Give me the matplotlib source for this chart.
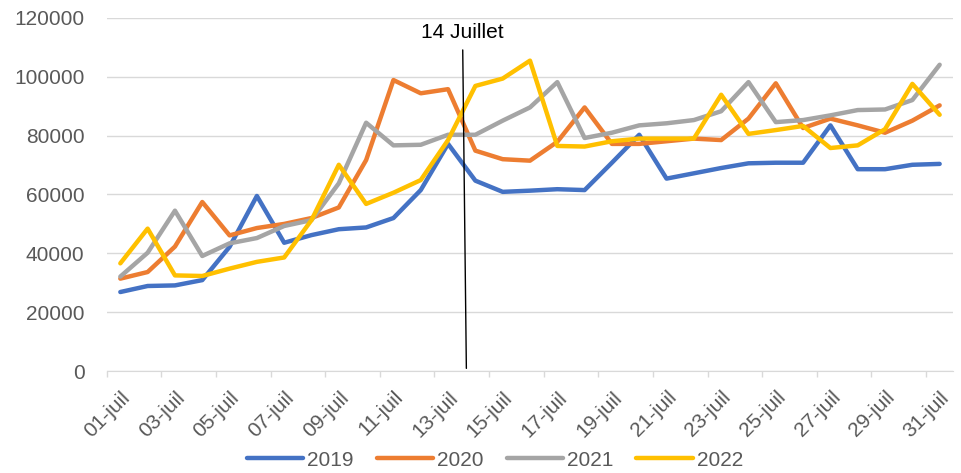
'''

arrivees de juillet, 2019-2022

'''
import numpy as np
import matplotlib
matplotlib.use('Agg')
import matplotlib.pyplot as plt

days = ['%02d-juil' % d for d in range(1, 32)]

v2019 = [26850, 28900, 29100, 30900, 42200, 59500, 43600, 46200, 48200, 48800,
         52000, 61500, 77200, 64700, 60900, 61300, 61800, 61500, 70800, 80300,
         65400, 67200, 69000, 70600, 70800, 70800, 83500, 68600, 68600, 70100, 70400]
v2020 = [31400, 33650, 42300, 57450, 46100, 48600, 50000, 52000, 55600, 71700,
         98900, 94400, 95800, 74900, 72000, 71500, 77900, 89600, 77200, 77200,
         78100, 79000, 78500, 85800, 97800, 82600, 85800, 83500, 81000, 85100, 90300]
v2021 = [32100, 40200, 54500, 39100, 43400, 45200, 49300, 51300, 63800, 84400,
         76700, 76900, 80300, 80300, 85100, 89600, 98200, 79200, 81000, 83500,
         84200, 85300, 88300, 98200, 84600, 85300, 86900, 88700, 88900, 92100, 104100]
v2022 = [36600, 48400, 32500, 32300, 34800, 37100, 38600, 51300, 70100, 56800,
         60600, 64900, 78500, 96900, 99400, 105500, 76500, 76300, 78100, 79000,
         79000, 79000, 93900, 80600, 81900, 83300, 75800, 76700, 82200, 97600, 87100]

series = [('2019', v2019, '#4472C4'), ('2020', v2020, '#ED7D31'),
          ('2021', v2021, '#A5A5A5'), ('2022', v2022, '#FFC000')]

plt.rcParams['font.family'] = ['Liberation Sans', 'DejaVu Sans']

fig = plt.figure(figsize=(9.61, 4.73), dpi=100)
sub = fig.add_axes([0.111, 0.2156, 0.881, 0.7464])

x = np.arange(1, len(days) + 1)
for name, vals, col in series:
    sub.plot(x, vals, lw=3.2, c=col, label=name, solid_capstyle='round')

# 14 juillet marker
sub.annotate('14 Juillet', xy=(13.67, 900), xytext=(13.53, 115200),
             ha='center', va='center', fontsize=15, color='black',
             arrowprops=dict(arrowstyle='-', color='black', lw=1,
                             shrinkA=4, shrinkB=0))

# axes
sub.set_xlim([0.5, 31.5])
sub.set_ylim([0, 120000])
sub.set_yticks(np.arange(0, 120001, 20000))
sub.set_xticks(x[::2])
sub.set_xticklabels(days[::2], rotation=45, ha='right', rotation_mode='anchor')
sub.set_xticks(np.arange(0.5, 32, 2), minor=True)
sub.tick_params(axis='x', which='major', length=0, pad=12, labelsize=15,
                labelcolor='#595959')
sub.tick_params(axis='x', which='minor', length=4, color='#D9D9D9', width=1)
sub.tick_params(axis='y', length=0, pad=16, labelsize=15, labelcolor='#595959')
sub.grid(axis='y', color='#D9D9D9', lw=1)
sub.set_axisbelow(True)
for s in ['top', 'right', 'left']:
    sub.spines[s].set_visible(False)
sub.spines['bottom'].set_color('#D9D9D9')

fig.legend(loc='center', bbox_to_anchor=(0.515, 0.027), ncol=4, frameon=False,
           fontsize=15, labelcolor='#595959', handlelength=2.7,
           handletextpad=0.2, columnspacing=1.1, borderpad=0)

fig.savefig('out.png', dpi=100)
plt.close()
